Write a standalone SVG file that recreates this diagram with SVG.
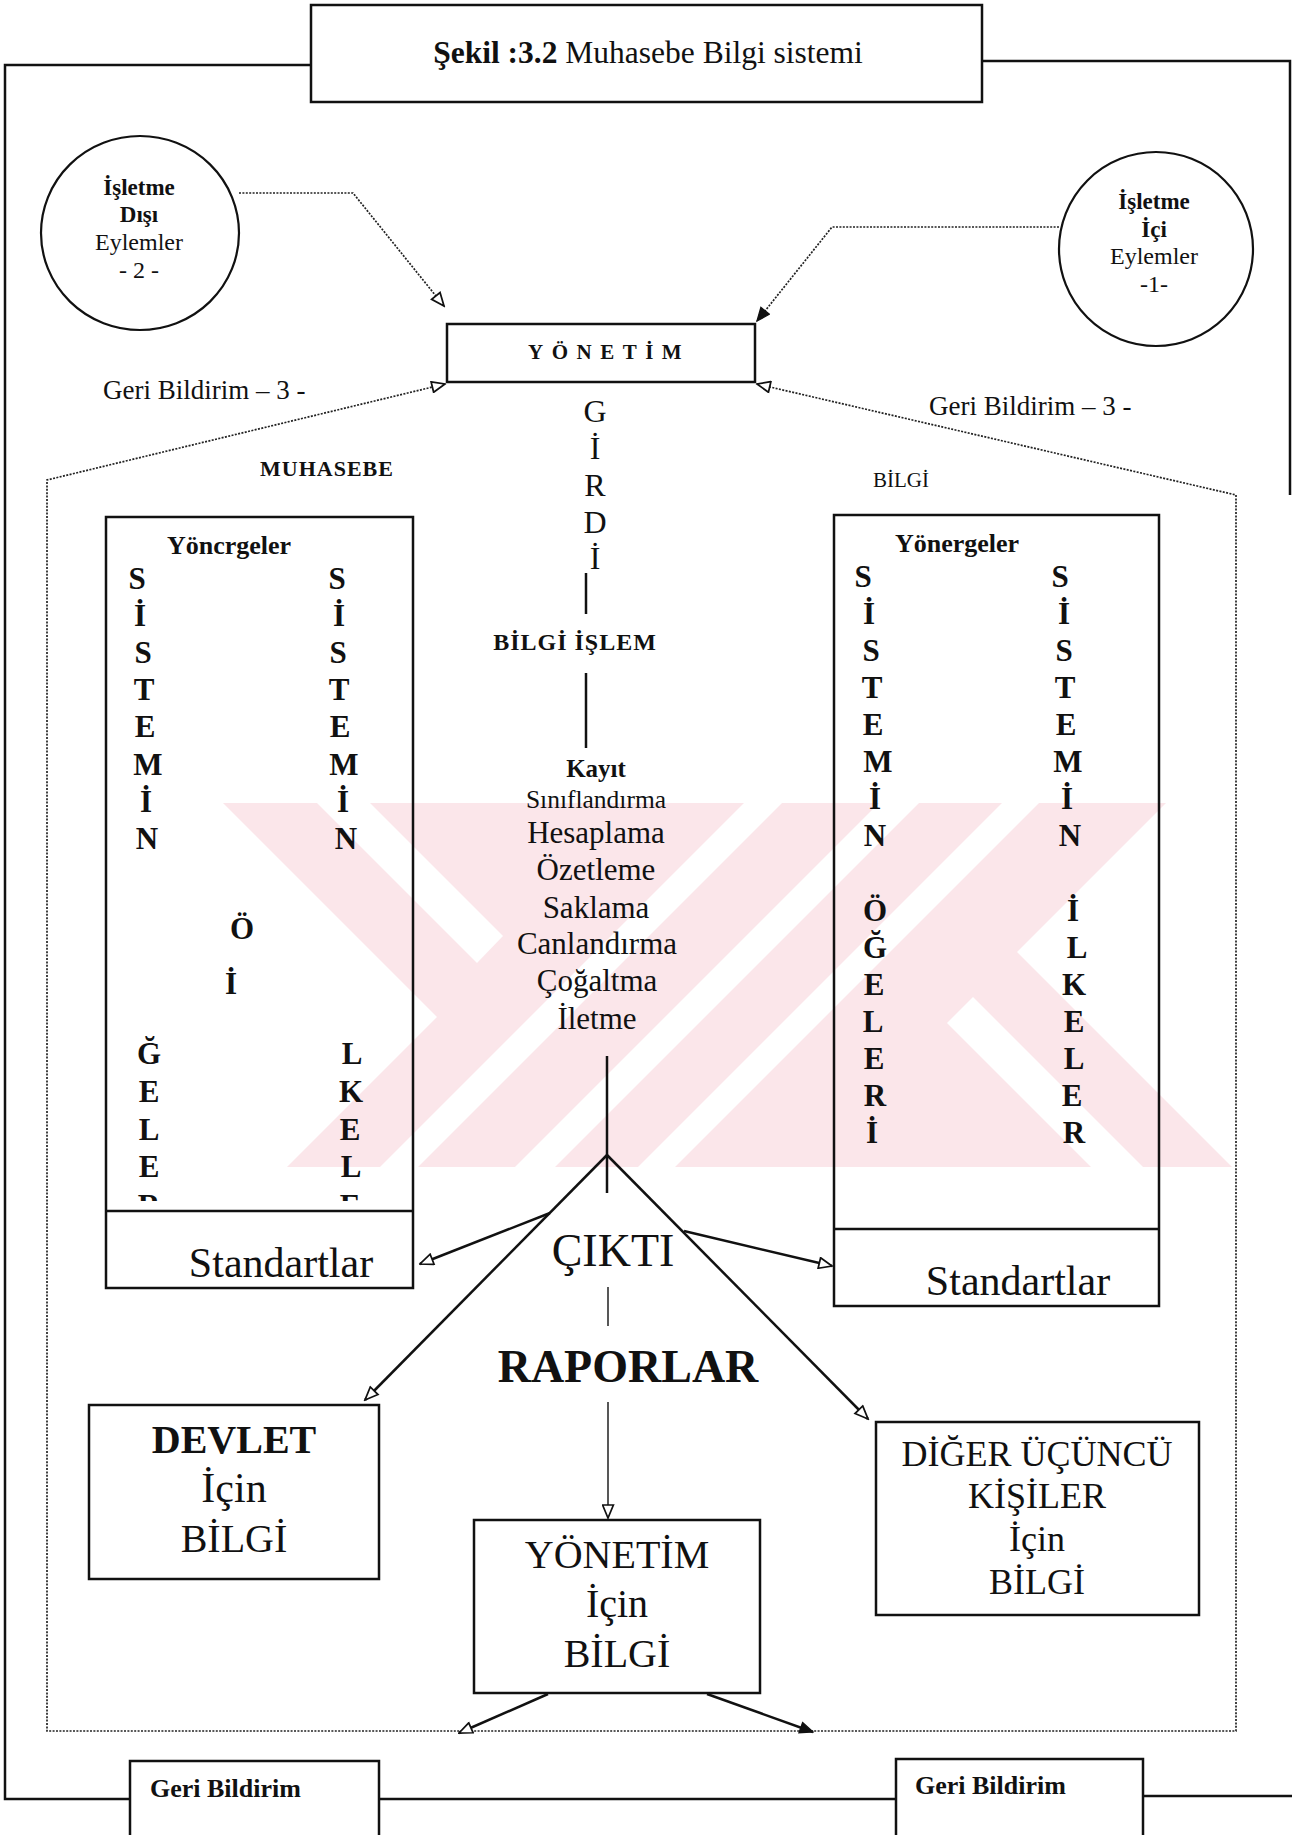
<svg xmlns="http://www.w3.org/2000/svg" width="1292" height="1835" viewBox="0 0 1292 1835">
<defs>
<style>
.t{font-family:"Liberation Serif","Times New Roman",serif;fill:#111}
.b{font-weight:bold}
.m{text-anchor:middle}
.box{fill:none;stroke:#111;stroke-width:2.5}
.ln{fill:none;stroke:#111;stroke-width:2.5}
.thin{fill:none;stroke:#111;stroke-width:1.4}
.dot{fill:none;stroke:#222;stroke-width:1.7;stroke-dasharray:2 1.4}
.col{font-family:"Liberation Serif","Times New Roman",serif;font-weight:bold;font-size:31px;text-anchor:middle;fill:#111}
.wm{fill:#fbe6ea}
.wh{fill:#fff}
</style>
<marker id="ah" viewBox="0 0 14 12" refX="13" refY="6" markerWidth="16" markerHeight="13" orient="auto-start-reverse" markerUnits="userSpaceOnUse">
<path d="M1,1 L13,6 L1,11 Z" fill="#fff" stroke="#111" stroke-width="1.6"/>
</marker>
<marker id="ahf" viewBox="0 0 14 12" refX="13" refY="6" markerWidth="16" markerHeight="13" orient="auto" markerUnits="userSpaceOnUse">
<path d="M1,1 L13,6 L1,11 Z" fill="#111" stroke="#111" stroke-width="1.2"/>
</marker>
<clipPath id="clipL"><rect x="106" y="517" width="307" height="684"/></clipPath>
</defs>
<rect width="1292" height="1835" fill="#fff"/>

<g id="watermark">
<polygon class="wm" points="223,803 1166,803 1017,952 1232,1167 287,1167 437,1017"/>
<polygon class="wh" points="317,803 370,803 503,936 477,963"/>
<polygon class="wh" points="744,803 782,803 418,1167 380,1167"/>
<polygon class="wh" points="879,803 919,803 555,1167 515,1167"/>
<polygon class="wh" points="1002,803 1039,803 675,1167 638,1167"/>
<polygon class="wh" points="947,1023 973,997 1143,1167 1091,1167"/>
</g>

<g id="frame">
<path class="ln" d="M311,65 H5 V1799 H130"/>
<path class="ln" d="M379,1799 H896"/>
<path class="ln" d="M1143,1796 H1292"/>
<path class="ln" d="M982,61 H1290 V495"/>
</g>

<g id="title">
<rect class="box" x="311" y="5" width="671" height="97"/>
<text class="t m" x="648" y="63" font-size="31.5"><tspan class="b">Şekil :3.2</tspan> Muhasebe Bilgi sistemi</text>
</g>

<g id="isletme-disi">
<ellipse cx="140" cy="233" rx="99" ry="97" fill="none" stroke="#111" stroke-width="2.2"/>
<text class="t b m" x="139" y="195" font-size="23">İşletme</text>
<text class="t b m" x="139" y="222" font-size="23">Dışı</text>
<text class="t m" x="139" y="250" font-size="24">Eylemler</text>
<text class="t m" x="139" y="278" font-size="24">- 2 -</text>
</g>

<g id="isletme-ici">
<ellipse cx="1156" cy="249" rx="97" ry="97" fill="none" stroke="#111" stroke-width="2.2"/>
<text class="t b m" x="1154" y="209" font-size="23">İşletme</text>
<text class="t b m" x="1154" y="237" font-size="23">İçi</text>
<text class="t m" x="1154" y="264" font-size="24">Eylemler</text>
<text class="t m" x="1154" y="292" font-size="24">-1-</text>
</g>

<g id="yonetim-top">
<rect class="box" x="447" y="324" width="308" height="58"/>
<text class="t b" x="528" y="359" font-size="21" letter-spacing="8.5">YÖNETİM</text>
</g>

<g id="labels">
<text class="t" x="103" y="399" font-size="27">Geri Bildirim – 3 -</text>
<text class="t" x="929" y="415" font-size="27">Geri Bildirim – 3 -</text>
<text class="t b" x="260" y="476" font-size="22" letter-spacing="1">MUHASEBE</text>
<text class="t" x="873" y="487" font-size="21">BİLGİ</text>
</g>

<g id="yonergeler-left">
<rect class="box" x="106" y="517" width="307" height="771"/>
<line class="ln" x1="106" y1="1211" x2="413" y2="1211"/>
<text class="t b" x="167" y="554" font-size="26">Yöncrgeler</text>
<g clip-path="url(#clipL)">
<text class="col" x="137" y="589">S</text>
<text class="col" x="140" y="626">İ</text>
<text class="col" x="143" y="663">S</text>
<text class="col" x="144" y="700">T</text>
<text class="col" x="145" y="737">E</text>
<text class="col" x="148" y="775">M</text>
<text class="col" x="146" y="812">İ</text>
<text class="col" x="147" y="849">N</text>
<text class="col" x="242" y="939">Ö</text>
<text class="col" x="231" y="994">İ</text>
<text class="col" x="149" y="1064">Ğ</text>
<text class="col" x="149" y="1102">E</text>
<text class="col" x="149" y="1140">L</text>
<text class="col" x="149" y="1177">E</text>
<text class="col" x="149" y="1216">R</text>
<text class="col" x="337" y="589">S</text>
<text class="col" x="339" y="626">İ</text>
<text class="col" x="338" y="663">S</text>
<text class="col" x="339" y="700">T</text>
<text class="col" x="340" y="737">E</text>
<text class="col" x="344" y="775">M</text>
<text class="col" x="343" y="812">İ</text>
<text class="col" x="346" y="849">N</text>
<text class="col" x="352" y="1064">L</text>
<text class="col" x="351" y="1102">K</text>
<text class="col" x="350" y="1140">E</text>
<text class="col" x="351" y="1177">L</text>
<text class="col" x="350" y="1216">E</text>
</g>
<text class="t m" x="281" y="1277" font-size="42">Standartlar</text>
</g>

<g id="yonergeler-right">
<rect class="box" x="834" y="515" width="325" height="791"/>
<line class="ln" x1="834" y1="1229" x2="1159" y2="1229"/>
<text class="t b" x="895" y="552" font-size="26">Yönergeler</text>
<text class="col" x="863" y="587">S</text>
<text class="col" x="869" y="624">İ</text>
<text class="col" x="871" y="661">S</text>
<text class="col" x="872" y="698">T</text>
<text class="col" x="873" y="735">E</text>
<text class="col" x="878" y="772">M</text>
<text class="col" x="875" y="809">İ</text>
<text class="col" x="875" y="846">N</text>
<text class="col" x="875" y="921">Ö</text>
<text class="col" x="875" y="958">Ğ</text>
<text class="col" x="874" y="995">E</text>
<text class="col" x="873" y="1032">L</text>
<text class="col" x="874" y="1069">E</text>
<text class="col" x="875" y="1106">R</text>
<text class="col" x="872" y="1143">İ</text>
<text class="col" x="1060" y="587">S</text>
<text class="col" x="1064" y="624">İ</text>
<text class="col" x="1064" y="661">S</text>
<text class="col" x="1065" y="698">T</text>
<text class="col" x="1066" y="735">E</text>
<text class="col" x="1068" y="772">M</text>
<text class="col" x="1067" y="809">İ</text>
<text class="col" x="1070" y="846">N</text>
<text class="col" x="1073" y="921">İ</text>
<text class="col" x="1077" y="958">L</text>
<text class="col" x="1074" y="995">K</text>
<text class="col" x="1074" y="1032">E</text>
<text class="col" x="1074" y="1069">L</text>
<text class="col" x="1072" y="1106">E</text>
<text class="col" x="1074" y="1143">R</text>
<text class="t m" x="1018" y="1295" font-size="42">Standartlar</text>
</g>

<g id="center-process">
<text class="t m" x="595" y="422" font-size="32">G</text>
<text class="t m" x="595" y="459" font-size="32">İ</text>
<text class="t m" x="595" y="496" font-size="32">R</text>
<text class="t m" x="595" y="533" font-size="32">D</text>
<text class="t m" x="595" y="569" font-size="32">İ</text>
<text class="t b m" x="575" y="650" font-size="24" letter-spacing="1">BİLGİ İŞLEM</text>
<text class="t b m" x="596" y="777" font-size="25">Kayıt</text>
<text class="t m" x="596" y="808" font-size="25.5">Sınıflandırma</text>
<text class="t m" x="596" y="843" font-size="31">Hesaplama</text>
<text class="t m" x="596" y="880" font-size="31">Özetleme</text>
<text class="t m" x="596" y="918" font-size="31">Saklama</text>
<text class="t m" x="597" y="954" font-size="31">Canlandırma</text>
<text class="t m" x="597" y="991" font-size="31">Çoğaltma</text>
<text class="t m" x="597" y="1029" font-size="31">İletme</text>
<text class="t m" x="613" y="1266" font-size="46">ÇIKTI</text>
<text class="t b m" x="628" y="1382" font-size="46">RAPORLAR</text>
</g>

<g id="devlet">
<rect class="box" x="89" y="1405" width="290" height="174"/>
<text class="t b m" x="234" y="1453" font-size="40">DEVLET</text>
<text class="t m" x="234" y="1502" font-size="42">İçin</text>
<text class="t m" x="234" y="1552" font-size="40">BİLGİ</text>
</g>

<g id="yonetim-bilgi">
<rect class="box" x="474" y="1520" width="286" height="173"/>
<text class="t m" x="617" y="1568" font-size="40">YÖNETİM</text>
<text class="t m" x="617" y="1617" font-size="40">İçin</text>
<text class="t m" x="617" y="1667" font-size="40">BİLGİ</text>
</g>

<g id="diger">
<rect class="box" x="876" y="1422" width="323" height="193"/>
<text class="t m" x="1037" y="1466" font-size="36">DİĞER ÜÇÜNCÜ</text>
<text class="t m" x="1037" y="1508" font-size="36">KİŞİLER</text>
<text class="t m" x="1037" y="1551" font-size="36">İçin</text>
<text class="t m" x="1037" y="1594" font-size="36">BİLGİ</text>
</g>

<g id="geri-left">
<rect class="box" x="130" y="1761" width="249" height="90"/>
<text class="t b" x="150" y="1797" font-size="26">Geri Bildirim</text>
</g>
<g id="geri-right">
<rect class="box" x="896" y="1759" width="247" height="90"/>
<text class="t b" x="915" y="1794" font-size="26">Geri Bildirim</text>
</g>

<g id="connectors">
<path class="dot" d="M239,193 H353 L444,306" marker-end="url(#ah)"/>
<path class="dot" d="M1059,227 H832 L757,321" marker-end="url(#ahf)"/>
<path class="dot" d="M445,384 L47,480 V1731 H1236 V495 L757,384" marker-start="url(#ah)" marker-end="url(#ah)"/>
<line class="ln" x1="586" y1="573" x2="586" y2="614"/>
<line class="ln" x1="586" y1="673" x2="586" y2="748"/>
<line class="ln" x1="607" y1="1056" x2="607" y2="1193"/>
<path class="ln" d="M607,1155 L365,1400" marker-end="url(#ah)"/>
<path class="ln" d="M550,1213 L420,1264" marker-end="url(#ah)"/>
<path class="ln" d="M607,1155 L868,1419" marker-end="url(#ah)"/>
<path class="ln" d="M684,1231 L832,1266" marker-end="url(#ah)"/>
<line class="thin" x1="608" y1="1287" x2="608" y2="1326"/>
<path class="thin" d="M608,1402 V1518" marker-end="url(#ah)"/>
<path class="ln" d="M548,1694 L459,1733" marker-end="url(#ah)"/>
<path class="ln" d="M707,1694 L813,1732" marker-end="url(#ahf)"/>
</g>
</svg>
